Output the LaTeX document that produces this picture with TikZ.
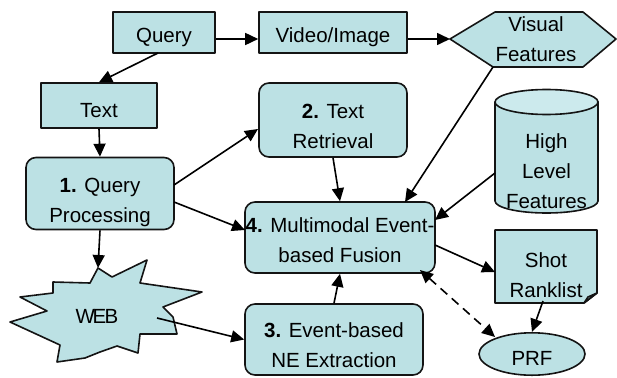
\documentclass[tikz,border=0pt]{standalone}
\usepackage{fontspec}
\setmainfont{Liberation Sans}
\usetikzlibrary{arrows.meta,shapes.geometric}
\definecolor{boxfill}{RGB}{188,225,228}
\definecolor{topfill}{RGB}{204,234,237}
\definecolor{edge}{RGB}{20,20,20}
\newcommand\lbl[2][0pt]{\raisebox{-#1}[\height][\depth]{\begin{tabular}{@{}c@{}}#2\end{tabular}}}
\begin{document}
\begin{tikzpicture}[x=1pt,y=-1pt,
  every node/.style={font=\fontsize{20.5}{30}\selectfont, align=center, inner sep=0pt},
  shapeline/.style={draw=edge, line width=1.6pt, fill=boxfill, line join=round},
  sqbox/.style={shapeline, rectangle},
  rbox/.style={shapeline, rectangle, rounded corners=10pt},
  conn/.style={line width=1.6pt, -{Triangle[length=13pt,width=12pt]}},
  dconn/.style={line width=1.6pt, dash pattern=on 9pt off 6pt, {Triangle[length=13pt,width=12pt]}-{Triangle[length=13pt,width=12pt]}},
]
\useasboundingbox (0,0) rectangle (617,377);

% hexagon (Visual Features)
\path[shapeline] (450,39) -- (495,12) -- (583,12) -- (616,39) -- (583,67) -- (493,67) -- cycle;
\coordinate (visL) at (450,39);
\coordinate (visB) at (493,67);
\node (vis) at (536,41) {\lbl{Visual\\Features}};

% cylinder (High Level Features)
\path[shapeline] (495,102) -- (495,201) arc[start angle=180, end angle=0, x radius=51.5, y radius=12] -- (598,102) -- cycle;
\path[shapeline, fill=topfill] (546.5,102) ellipse [x radius=51.5, y radius=12.5];
\coordinate (hlfL) at (495,173);
\node (hlf) at (546.5,172) {\lbl{High\\Level\\Features}};

% Shot Ranklist (page with curled corner)
\path[shapeline] (495,230) -- (597,230) -- (597,293) -- (584,303) -- (495,303) -- cycle;
\path[shapeline] (584,303) -- (588,297) -- (597,293) -- cycle;
\node (sr) at (546,276) {\lbl{Shot\\Ranklist}};

% WEB star
\path[shapeline] (98,268) -- (112,277) -- (147,260) -- (140,283) -- (202,292) -- (163,307)
  -- (173,317) -- (177,334) -- (140,334) -- (138,353) -- (117,346) -- (100,352) -- (85,358)
  -- (57,362) -- (60,345) -- (10,322) -- (47,311) -- (20,297) -- (53,293) -- (53,282)
  -- (90,283) -- cycle;
\coordinate (webT) at (98,268);
\coordinate (webR) at (157,318);
\node (web) at (97,317) {\lbl{W\kern-2.5pt E\kern-1.5pt B}};

% boxes
\node[sqbox, minimum width=102pt, minimum height=41pt] (query) at (164,32.5) {\lbl[4.5pt]{Query}};
\node[sqbox, minimum width=148pt, minimum height=41pt] (video) at (333,32.5) {\lbl[4.5pt]{Video/Image}};
\node[sqbox, minimum width=116pt, minimum height=45pt] (text) at (99,105.5) {\lbl[6pt]{Text}};
\node[rbox, minimum width=148pt, minimum height=72pt] (qp) at (100,193.5) {\lbl[7.5pt]{\textbf{1.} Query\\Processing}};
\node[rbox, minimum width=148pt, minimum height=74pt] (tr) at (333,120) {\lbl[7pt]{\textbf{2.} Text\\Retrieval}};
\node[rbox, minimum width=190pt, minimum height=71pt] (mm) at (340,237.5) {\lbl[4pt]{\textbf{4.} Multimodal Event-\\based Fusion}};
\node[rbox, minimum width=178pt, minimum height=71pt] (ev) at (334,339.5) {\lbl[7pt]{\textbf{3.} Event-based\\NE Extraction}};
\node[shapeline, ellipse, minimum width=106pt, minimum height=42pt] (prf) at (532,354) {\lbl[5pt]{PRF}};

% connectors
\draw[conn] (query.east |- visL) -- (video.west |- visL);
\draw[conn] (video.east |- visL) -- (visL);
\draw[conn] (158,53) -- (text.north);
\draw[conn] (text.south) -- (qp.north);
\draw[conn] (174,185) -- (258,129);
\draw[conn] (174,202) -- (245,230);
\draw[conn] (qp.south) -- (webT);
\draw[conn] (webR) -- (ev.west);
\draw[conn] (ev.north) -- (mm.south);
\draw[conn] (tr.south) -- (mm.north);
\draw[conn] (visB) -- (405,202);
\draw[conn] (hlfL) -- (435,220);
\draw[conn] (435,245) -- (495,272);
\draw[conn] (543,301) -- (prf.north);
\draw[dconn] (420,270) -- (495,337);
\end{tikzpicture}
\end{document}
